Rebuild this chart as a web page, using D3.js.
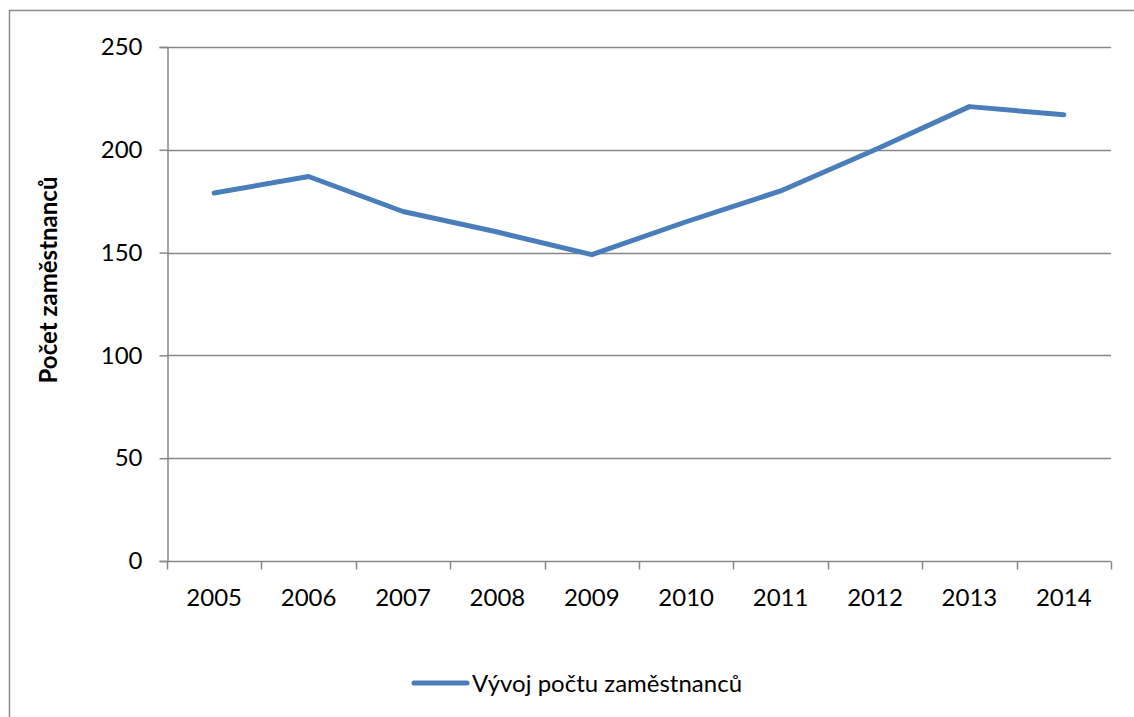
<!DOCTYPE html>
<html>
<head>
<meta charset="utf-8">
<script src="https://cdn.jsdelivr.net/npm/d3@7"></script>
<style>
  body { margin: 0; background: #fff; }
  svg text { font-family: Lato, "Open Sans", sans-serif; fill: #000; }
</style>
</head>
<body>
<div id="chart"></div>
<script>
var years = ["2005", "2006", "2007", "2008", "2009", "2010", "2011", "2012", "2013", "2014"];
var employees = [179, 187, 170, 160, 149, 165, 180, 200, 221, 217];
var yTicks = [0, 50, 100, 150, 200, 250];
var seriesName = "Vývoj počtu zaměstnanců";
var yTitle = "Počet zaměstnanců";

var width = 1134, height = 717;
var plot = { left: 167, right: 1111, top: 47, bottom: 561 };
var fontSize = 24;

var svg = d3.select("#chart").append("svg")
    .attr("width", width)
    .attr("height", height);

// chart frame (runs off the picture at right and bottom)
svg.append("rect")
    .attr("x", 9.5).attr("y", 10.5)
    .attr("width", 1140).attr("height", 720)
    .attr("fill", "none")
    .attr("stroke", "#8c8c8c")
    .attr("stroke-width", 1.5);

var x = d3.scaleBand()
    .domain(years)
    .range([plot.left, plot.right]);

var y = d3.scaleLinear()
    .domain([0, 250])
    .range([plot.bottom, plot.top]);

// gridlines
svg.append("g")
    .selectAll("line")
    .data(yTicks.filter(function(d) { return d > 0; }))
    .enter().append("line")
    .attr("x1", plot.left).attr("x2", plot.right)
    .attr("y1", function(d) { return Math.round(y(d)) + 0.5; })
    .attr("y2", function(d) { return Math.round(y(d)) + 0.5; })
    .attr("stroke", "#878787")
    .attr("stroke-width", 1.5);

// y axis
var yAxis = d3.axisLeft(y)
    .tickValues(yTicks)
    .tickSize(8)
    .tickPadding(17);

var gy = svg.append("g")
    .attr("transform", "translate(" + (plot.left + 0.5) + ",0)")
    .call(yAxis);
gy.select(".domain").attr("stroke", "#878787").attr("stroke-width", 1.5);
gy.selectAll(".tick line").attr("stroke", "#878787").attr("stroke-width", 1.5);
gy.selectAll(".tick text").attr("font-size", fontSize).style("font-family", "Lato");

// x axis with ticks on category boundaries
var gx = svg.append("g")
    .attr("transform", "translate(0," + (plot.bottom + 0.5) + ")");
gx.append("line")
    .attr("x1", plot.left).attr("x2", plot.right)
    .attr("stroke", "#878787").attr("stroke-width", 1.5);
var bounds = years.map(function(d) { return x(d); }).concat([plot.right]);
gx.selectAll(".bt")
    .data(bounds)
    .enter().append("line")
    .attr("class", "bt")
    .attr("x1", function(d) { return Math.round(d) + 0.5; })
    .attr("x2", function(d) { return Math.round(d) + 0.5; })
    .attr("y1", 0).attr("y2", 8)
    .attr("stroke", "#878787").attr("stroke-width", 1.5);
gx.selectAll(".lbl")
    .data(years)
    .enter().append("text")
    .attr("class", "lbl")
    .attr("x", function(d) { return x(d) + x.bandwidth() / 2; })
    .attr("y", 44)
    .attr("text-anchor", "middle")
    .attr("font-size", fontSize)
    .text(function(d) { return d; });

// y title
svg.append("text")
    .attr("transform", "translate(57,280) rotate(-90)")
    .attr("text-anchor", "middle")
    .attr("font-size", fontSize)
    .attr("font-weight", "bold")
    .text(yTitle);

// series line
var line = d3.line()
    .x(function(d, i) { return x(years[i]) + x.bandwidth() / 2; })
    .y(function(d) { return y(d); });

svg.append("path")
    .datum(employees)
    .attr("d", line)
    .attr("fill", "none")
    .attr("stroke", "#4a7ebb")
    .attr("stroke-width", 5)
    .attr("stroke-linejoin", "round")
    .attr("stroke-linecap", "round");

// legend
var legend = svg.append("g").attr("transform", "translate(412,683)");
legend.append("line")
    .attr("x1", 2).attr("x2", 55)
    .attr("stroke", "#4a7ebb")
    .attr("stroke-width", 5)
    .attr("stroke-linecap", "round");
legend.append("text")
    .attr("x", 60)
    .attr("y", 9)
    .attr("font-size", fontSize)
    .text(seriesName);
</script>
</body>
</html>
